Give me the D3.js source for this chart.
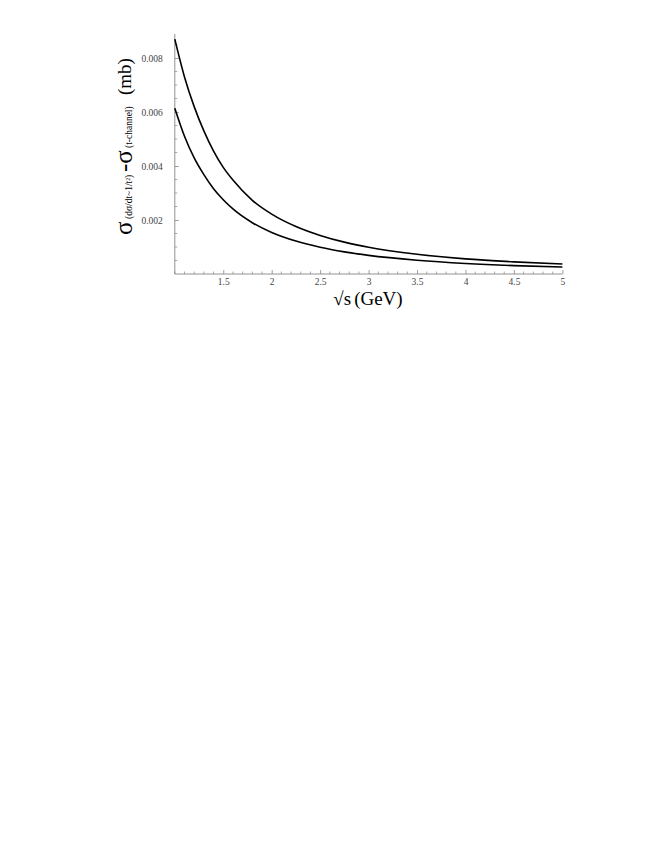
<!DOCTYPE html>
<html><head><meta charset="utf-8">
<script src="https://cdn.jsdelivr.net/npm/d3@7"></script>
<style>body{margin:0;background:#fff}</style>
</head><body>
<svg id="c" width="654" height="846"></svg>
<script>
const sqrtS = [1, 1.1, 1.2, 1.3, 1.4, 1.5, 1.6, 1.8, 2, 2.25, 2.5, 2.75, 3, 3.5, 4, 4.5, 5];
const upper = [0.0087, 0.0073, 0.0062, 0.0053, 0.00455, 0.00395, 0.00348, 0.00273, 0.00222, 0.00176, 0.00143, 0.00118, 0.00099, 0.00073, 0.00056, 0.00045, 0.00037];
const lower = [0.00614, 0.0051, 0.0043, 0.00368, 0.00316, 0.00275, 0.00241, 0.0019, 0.00154, 0.00122, 0.00099, 0.00082, 0.00069, 0.00051, 0.00039, 0.00031, 0.00026];
const xTicks = [1.5, 2, 2.5, 3, 3.5, 4, 4.5, 5];
const yTicks = [0.002, 0.004, 0.006, 0.008];

const svg = d3.select("#c");
const x = d3.scaleLinear().domain([1, 5]).range([174.8, 562.4]);
const y = d3.scaleLinear().domain([0, 0.00889]).range([274, 34]);
const axisCol = "#777";
const serif = "'Liberation Serif','DejaVu Serif',serif";

// minor ticks
const xMinor = d3.range(1, 5.0001, 0.1).filter(v => !xTicks.some(t => Math.abs(t - v) < 1e-6));
const yMinor = d3.range(0.0005, 0.0089, 0.0005).filter(v => !yTicks.some(t => Math.abs(t - v) < 1e-9));
const g = svg.append("g");
g.selectAll(".xm").data(xMinor).join("line")
  .attr("x1", d => x(d)).attr("x2", d => x(d)).attr("y1", 274).attr("y2", 271.5)
  .attr("stroke", axisCol).attr("stroke-width", 0.6);
g.selectAll(".ym").data(yMinor).join("line")
  .attr("x1", 174.8).attr("x2", 177.3).attr("y1", d => y(d)).attr("y2", d => y(d))
  .attr("stroke", axisCol).attr("stroke-width", 0.6);

const xAxis = d3.axisBottom(x).tickValues(xTicks).tickSize(-4).tickPadding(4).tickFormat(d => d3.format("")(d));
const yAxis = d3.axisLeft(y).tickValues(yTicks).tickSize(-4).tickPadding(12).tickFormat(d => d.toFixed(3));
const gx = svg.append("g").attr("transform", "translate(0,274)").call(xAxis);
const gy = svg.append("g").attr("transform", "translate(174.8,0)").call(yAxis);
[gx, gy].forEach(a => {
  a.attr("font-family", serif).attr("font-size", 9.5);
  a.select(".domain").attr("stroke", axisCol).attr("stroke-width", 0.8);
  a.selectAll(".tick line").attr("stroke", axisCol).attr("stroke-width", 0.7);
  a.selectAll("text").attr("font-family", serif).attr("font-size", 9.5).attr("fill", "#444");
});
gy.select(".domain").attr("d", "M0,274V34");
gx.select(".domain").attr("d", "M174.8,0H562.4");

const line = d3.line().x((d, i) => x(sqrtS[i])).y(d => y(d)).curve(d3.curveMonotoneX);
[upper, lower].forEach(s => {
  svg.append("path").attr("d", line(s)).attr("fill", "none").attr("stroke", "#000").attr("stroke-width", 1.6);
});

// x label
const xl = svg.append("text").attr("x", 368).attr("y", 305).attr("text-anchor", "middle")
  .attr("font-family", serif).attr("font-size", 19).attr("fill", "#000");
xl.append("tspan").text("\u221As");
xl.append("tspan").attr("dx", 3).text("(GeV)");

// y label (rotated frame: origin at bottom of label, text runs upward)
const yl = svg.append("g").attr("transform", "translate(132,235) rotate(-90)")
  .attr("font-family", serif).attr("fill", "#000");
const parts = [
  {t: "\u03C3", s: 25, at: 0, dy: 0},
  {t: "(d\u03C3/dt~1/t\u00B2)", s: 9.5, at: 16, dy: 0},
  {t: "-\u03C3", s: 25, at: 63, dy: 0},
  {t: "(t-channel)", s: 9.5, at: 87, dy: 0},
  {t: "(mb)", s: 19, at: 140, dy: -1}
];
yl.selectAll("text").data(parts).join("text")
  .attr("x", d => d.at).attr("y", d => d.dy).attr("font-size", d => d.s).text(d => d.t);
</script>
</body></html>
